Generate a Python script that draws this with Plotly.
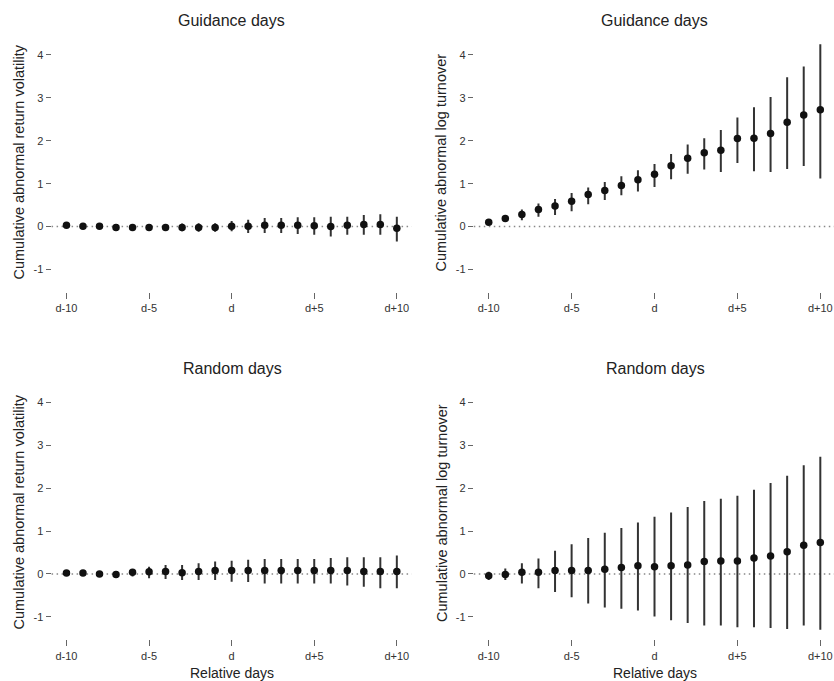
import plotly.graph_objects as go

# ---------------- data ----------------
days = list(range(-10, 11))
x_tick_vals = [-10, -5, 0, 5, 10]
x_tick_text = ["d-10", "d-5", "d", "d+5", "d+10"]
y_tick_vals = [-1, 0, 1, 2, 3, 4]
y_tick_text = ["-1", "0", "1", "2", "3", "4"]

panel_titles = ["Guidance days", "Guidance days", "Random days", "Random days"]
y_titles = ["Cumulative abnormal return volatility", "Cumulative abnormal log turnover",
            "Cumulative abnormal return volatility", "Cumulative abnormal log turnover"]
x_title = "Relative days"

# Guidance days - return volatility
gv_est = [0.03, 0.01, 0.01, -0.02, -0.02, -0.02, -0.02, -0.02, -0.02, -0.02, 0.01,
          0.01, 0.03, 0.03, 0.03, 0.02, 0.00, 0.03, 0.05, 0.05, -0.04]
gv_up = [0.06, 0.05, 0.05, 0.03, 0.03, 0.04, 0.05, 0.07, 0.08, 0.08, 0.13,
         0.16, 0.20, 0.20, 0.22, 0.22, 0.23, 0.23, 0.27, 0.29, 0.23]
gv_lo = [0.00, -0.03, -0.03, -0.07, -0.07, -0.08, -0.09, -0.11, -0.12, -0.12, -0.11,
         -0.15, -0.15, -0.15, -0.17, -0.19, -0.23, -0.19, -0.19, -0.19, -0.35]

# Guidance days - log turnover
gt_est = [0.10, 0.19, 0.28, 0.40, 0.48, 0.59, 0.75, 0.84, 0.96, 1.09, 1.22,
          1.42, 1.59, 1.72, 1.78, 2.05, 2.06, 2.17, 2.43, 2.60, 2.72]
gt_up = [0.13, 0.25, 0.40, 0.54, 0.64, 0.78, 0.91, 1.04, 1.17, 1.31, 1.46,
         1.69, 1.91, 2.06, 2.25, 2.54, 2.78, 3.02, 3.48, 3.73, 4.25]
gt_lo = [0.07, 0.12, 0.15, 0.23, 0.27, 0.36, 0.52, 0.62, 0.73, 0.82, 0.92,
         1.10, 1.23, 1.33, 1.27, 1.48, 1.29, 1.27, 1.34, 1.41, 1.12]

# Random days - return volatility
rv_est = [0.02, 0.02, 0.00, -0.01, 0.04, 0.05, 0.06, 0.03, 0.06, 0.08, 0.08,
          0.08, 0.08, 0.08, 0.08, 0.08, 0.08, 0.08, 0.06, 0.06, 0.06]
rv_up = [0.05, 0.05, 0.03, 0.02, 0.11, 0.17, 0.21, 0.21, 0.25, 0.29, 0.31,
         0.33, 0.35, 0.35, 0.35, 0.35, 0.37, 0.39, 0.39, 0.39, 0.43]
rv_lo = [-0.01, -0.01, -0.03, -0.04, -0.06, -0.10, -0.12, -0.14, -0.14, -0.14, -0.18,
         -0.19, -0.22, -0.22, -0.22, -0.22, -0.22, -0.27, -0.30, -0.33, -0.33]

# Random days - log turnover
rt_est = [-0.04, -0.01, 0.04, 0.04, 0.08, 0.08, 0.08, 0.11, 0.15, 0.19, 0.17,
          0.19, 0.21, 0.29, 0.30, 0.30, 0.37, 0.42, 0.52, 0.67, 0.73]
rt_up = [0.05, 0.13, 0.25, 0.36, 0.54, 0.69, 0.84, 0.96, 1.07, 1.20, 1.33,
         1.43, 1.56, 1.70, 1.75, 1.82, 1.96, 2.12, 2.29, 2.53, 2.73]
rt_lo = [-0.14, -0.14, -0.22, -0.33, -0.42, -0.54, -0.69, -0.78, -0.81, -0.85, -0.99,
         -1.08, -1.14, -1.20, -1.20, -1.24, -1.24, -1.26, -1.28, -1.20, -1.30]

series = [(gv_est, gv_lo, gv_up), (gt_est, gt_lo, gt_up),
          (rv_est, rv_lo, rv_up), (rt_est, rt_lo, rt_up)]

# ---------------- layout geometry (pixels) ----------------
W, H = 834, 681
FONT = "Liberation Sans, Arial, Helvetica, sans-serif"


def fx(p):
    return p / W


def fy(p):
    return 1 - p / H


panels = [
    dict(xp=(51.6, 411.7), xr=[-10.9, 10.9], yp=(292.0, 32.4), title=(231.7, 20.5), ytitle=(18.5, 162), xtitle=None),
    dict(xp=(473.8, 834.0), xr=[-10.9, 10.826], yp=(292.0, 32.4), title=(654.5, 20.5), ytitle=(440.5, 163), xtitle=None),
    dict(xp=(51.6, 411.7), xr=[-10.9, 10.9], yp=(639.4, 379.7), title=(232, 368), ytitle=(18.5, 512), xtitle=(232, 673)),
    dict(xp=(473.8, 834.0), xr=[-10.9, 10.826], yp=(639.4, 379.7), title=(655, 368), ytitle=(442, 513), xtitle=(654.5, 673)),
]
y_range = [-1.524, 4.524]

fig = go.Figure()
layout = dict(
    width=W, height=H, margin=dict(l=0, r=0, t=0, b=0),
    paper_bgcolor="white", plot_bgcolor="white", showlegend=False,
    font=dict(family=FONT, color="#333333"),
)
annotations = []
shapes = []

for i, (p, (est, lo, up)) in enumerate(zip(panels, series)):
    n = "" if i == 0 else str(i + 1)
    xa, ya = "x" + n, "y" + n
    plus = [u - e for u, e in zip(up, est)]
    minus = [e - l for e, l in zip(est, lo)]
    fig.add_trace(go.Scatter(
        x=days, y=est, mode="markers", xaxis=xa, yaxis=ya,
        marker=dict(color="#111111", size=7.5, line=dict(width=0)),
        error_y=dict(type="data", symmetric=False, array=plus, arrayminus=minus,
                     color="#333333", thickness=2, width=0),
        hoverinfo="x+y",
    ))
    layout["xaxis" + n] = dict(
        domain=[fx(p["xp"][0]), fx(p["xp"][1])], range=p["xr"], anchor=ya,
        tickvals=x_tick_vals, ticktext=x_tick_text, ticks="outside", ticklen=6,
        tickwidth=1, tickcolor="#666666", showgrid=False, zeroline=False, showline=False,
        tickfont=dict(size=11, color="#333333", family=FONT), automargin=False,
    )
    layout["yaxis" + n] = dict(
        domain=[fy(p["yp"][0]), fy(p["yp"][1])], range=y_range, anchor=xa,
        tickvals=y_tick_vals, ticktext=y_tick_text, ticks="outside", ticklen=5,
        tickwidth=1, tickcolor="#666666", showgrid=False, zeroline=False, showline=False,
        tickfont=dict(size=11, color="#333333", family=FONT), automargin=False,
    )
    shapes.append(dict(type="line", xref=xa + " domain", yref=ya, x0=0, x1=1, y0=0, y1=0,
                       line=dict(color="#888888", width=1.5, dash="1.5px,3.5px"), layer="below"))
    annotations.append(dict(text=panel_titles[i], x=fx(p["title"][0]), y=fy(p["title"][1]),
                            xref="paper", yref="paper", xanchor="center", yanchor="middle",
                            showarrow=False, font=dict(size=16, color="#222222", family=FONT)))
    annotations.append(dict(text=y_titles[i], x=fx(p["ytitle"][0]), y=fy(p["ytitle"][1]),
                            xref="paper", yref="paper", xanchor="center", yanchor="middle",
                            textangle=-90, showarrow=False,
                            font=dict(size=14.5, color="#222222", family=FONT)))
    if p["xtitle"] is not None:
        annotations.append(dict(text=x_title, x=fx(p["xtitle"][0]), y=fy(p["xtitle"][1]),
                                xref="paper", yref="paper", xanchor="center", yanchor="middle",
                                showarrow=False, font=dict(size=14, color="#222222", family=FONT)))

layout["annotations"] = annotations
layout["shapes"] = shapes
fig.update_layout(**layout)
fig.write_html("out.html")
